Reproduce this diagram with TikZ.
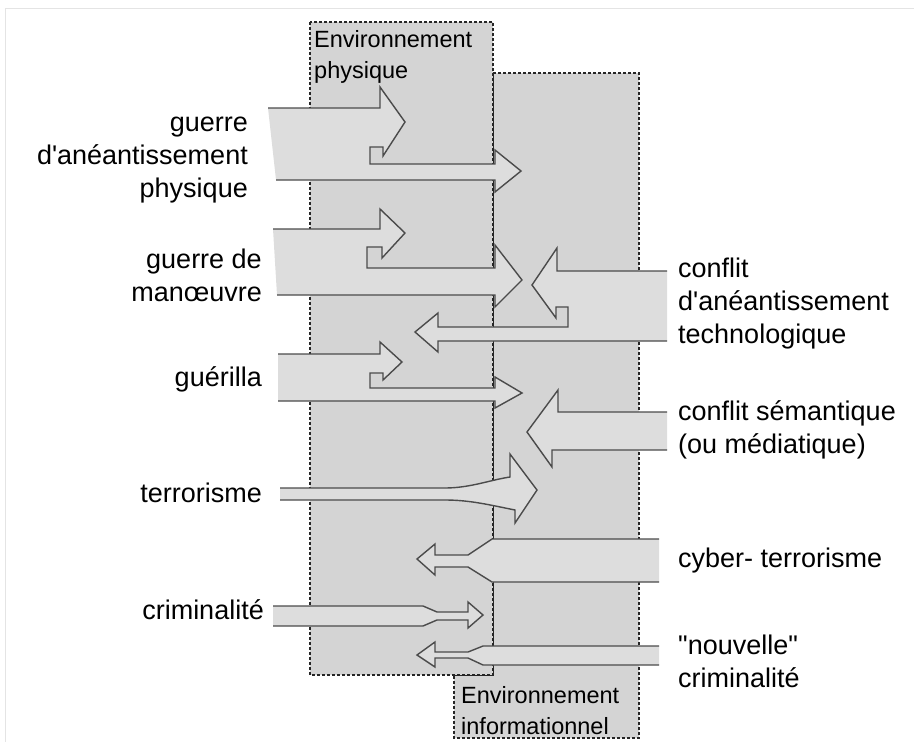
\documentclass[tikz,border=0pt]{standalone}
\usepackage{fontspec}
\setmainfont{Liberation Sans}[Ligatures=TeXOff]
\definecolor{envgray}{RGB}{212,212,212}
\definecolor{arwgray}{RGB}{221,221,221}
\definecolor{edgegray}{RGB}{75,75,75}
\definecolor{framegray}{RGB}{228,228,228}
\begin{document}
\begin{tikzpicture}[x=1pt,y=-1pt,
  env/.style={fill=envgray,draw=black!85,line width=1.5pt,dash pattern=on 3pt off 2pt},
  arw/.style={fill=arwgray,draw=edgegray,line width=1.4pt,line join=miter},
  lbl/.style={font=\fontsize{27}{33}\selectfont,inner sep=0pt},
  envlbl/.style={font=\fontsize{23.5}{31}\selectfont,inner sep=0pt,align=left,anchor=north west}]
\useasboundingbox (0,0) rectangle (914,742);
\draw[framegray,line width=1pt] (5,742) -- (5,8) -- (914,8);
\filldraw[env] (493,73) -- (639,73) -- (639,738) -- (454,738) -- (454,675) -- (493,675) -- cycle;
\filldraw[env] (310,22) rectangle (493,675);
\node[envlbl] (phys) at (314,30) {Environnement\\physique};
\node[envlbl] (info) at (461,686) {Environnement\\informationnel};
\filldraw[arw] (268,108) -- (380,108) -- (380,87) -- (405,122) -- (383,156) -- (383,147) -- (370,147) -- (370,164) -- (495,164) -- (495,150) -- (521,171) -- (495,192) -- (495,180) -- (276,180);
\filldraw[arw] (273,229) -- (380,229) -- (380,209) -- (405,233) -- (382,258) -- (382,247) -- (367,247) -- (367,268) -- (495,268) -- (495,245) -- (522,280) -- (495,307) -- (495,295) -- (277,295);
\filldraw[arw] (667,271) -- (557,271) -- (557,248) -- (532,285) -- (556,318) -- (556,307) -- (568,307) -- (568,327) -- (438,327) -- (438,313) -- (415,332) -- (438,352) -- (438,341) -- (667,341);
\filldraw[arw] (278,354) -- (380,354) -- (380,342) -- (402,362) -- (383,380) -- (383,373) -- (370,373) -- (370,388) -- (495,388) -- (495,377) -- (522,393) -- (495,408) -- (495,401) -- (278,401);
\filldraw[arw] (667,412) -- (558,412) -- (558,390) -- (527,432) -- (552,467) -- (552,450) -- (667,450);
\filldraw[arw] (280,488) -- (445,488) .. controls (470,488) and (490,480) .. (510,477) -- (510,454) -- (537,490) -- (515,523) -- (515,510) .. controls (490,505) and (470,500) .. (445,500) -- (280,500);
\filldraw[arw] (659,539) -- (492,539) -- (468,555) -- (435,555) -- (435,544) -- (417,559) -- (435,575) -- (435,567) -- (468,567) -- (492,582) -- (659,582);
\filldraw[arw] (273,606) -- (423,606) -- (437,612) -- (468,612) -- (468,602) -- (483,615) -- (468,628) -- (468,620) -- (437,620) -- (423,626) -- (273,626);
\filldraw[arw] (659,646) -- (483,646) -- (468,652) -- (435,652) -- (435,642) -- (417,655) -- (435,667) -- (435,658) -- (468,658) -- (483,665) -- (659,665);
\node[lbl,align=right,anchor=east] (aneph) at (248,160) {guerre\\d'anéantissement\\physique};
\node[lbl,align=right,anchor=east] (manoeuvre) at (262,275) {guerre de\\manœuvre};
\node[lbl,anchor=east] (guerilla) at (262,379) {guérilla};
\node[lbl,anchor=east] (terror) at (262,493) {terrorisme};
\node[lbl,anchor=east] (crimin) at (264,610) {criminalité};
\node[lbl,align=left,anchor=west] (anetech) at (678,304) {conflit\\d'anéantissement\\technologique};
\node[lbl,align=left,anchor=west] (semant) at (678,430) {conflit sémantique\\(ou médiatique)};
\node[lbl,anchor=west] (cyber) at (678,561) {cyber- terrorisme};
\node[lbl,align=left,anchor=west] (nouvcrim) at (678,661) {"nouvelle"\\criminalité};
\end{tikzpicture}
\end{document}
